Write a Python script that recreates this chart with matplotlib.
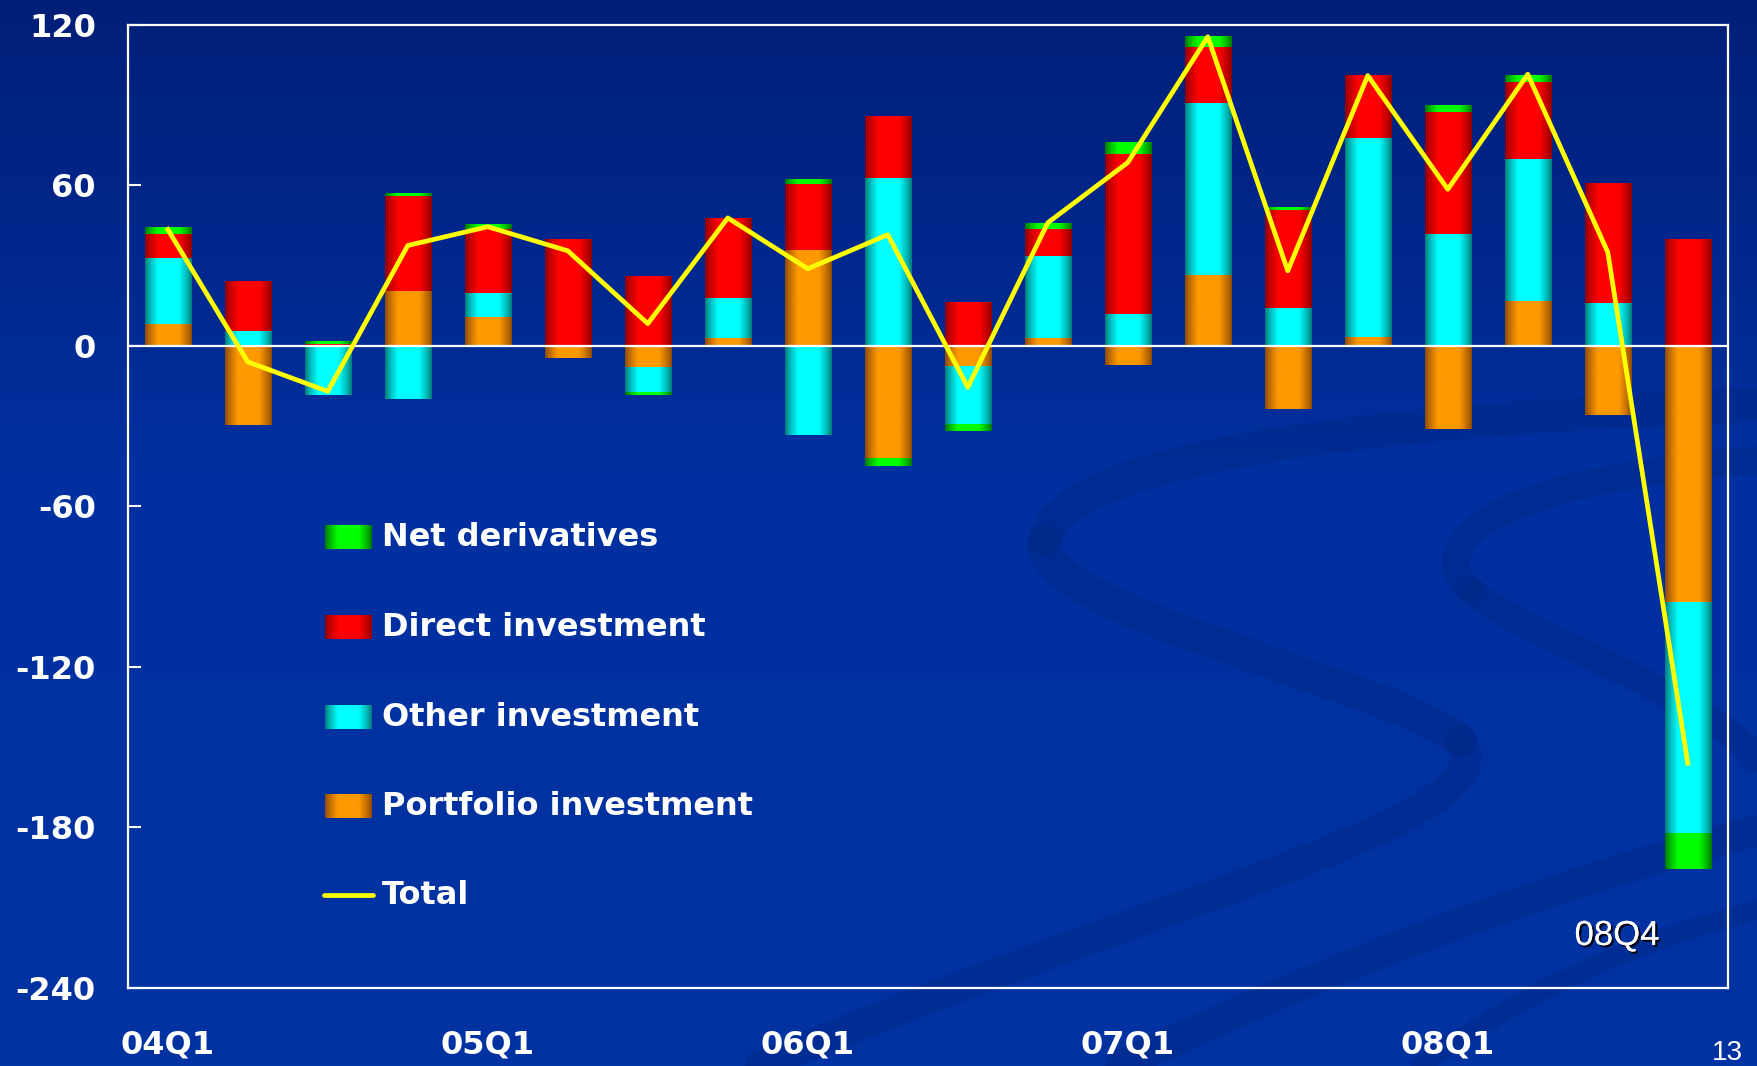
import numpy as np
import matplotlib
matplotlib.use("Agg")
import matplotlib.pyplot as plt
import matplotlib.patheffects as pe
from matplotlib.colors import to_rgb
from matplotlib.path import Path
from matplotlib.patches import PathPatch

plt.rcParams['axes.unicode_minus'] = False

# --- Quarterly flows by component ---
quarters = ['04Q1', '04Q2', '04Q3', '04Q4', '05Q1', '05Q2', '05Q3', '05Q4',
            '06Q1', '06Q2', '06Q3', '06Q4', '07Q1', '07Q2', '07Q3', '07Q4',
            '08Q1', '08Q2', '08Q3', '08Q4']
portfolio = [8.3, -29.7, 0.0, 20.5, 10.7, -4.4, -7.8, 3.0, 35.8, -42.2,
             -7.8, 3.0, -7.1, 26.3, -23.7, 3.4, -31.2, 16.8, -26.0, -95.9]
other = [24.5, 5.6, -18.3, -20.0, 9.1, 0.0, -9.3, 14.9, -33.2, 62.6,
         -21.8, 30.5, 11.9, 64.3, 14.2, 74.1, 41.7, 52.9, 16.0, -86.5]
direct = [8.9, 18.6, 0.8, 35.4, 23.7, 39.9, 26.1, 29.8, 24.7, 23.1,
          16.4, 10.1, 59.8, 21.2, 36.6, 23.5, 45.5, 28.8, 44.8, 39.9]
derivatives = [2.3, 0.0, 1.0, 1.1, 1.6, 0.0, -1.1, 0.0, 1.7, -2.9,
               -2.3, 2.2, 4.3, 4.1, 1.0, 0.0, 2.6, 2.5, 0.0, -13.1]
total = [43.5, -6.0, -17.0, 37.5, 44.5, 35.5, 8.3, 47.8, 28.8, 41.5,
         -15.5, 46.0, 68.5, 115.5, 28.0, 101.0, 58.5, 101.5, 35.0, -156.0]

yticks = [-240, -180, -120, -60, 0, 60, 120]

# series in stacking order (nearest the zero line first)
series = [
    ('Portfolio investment', portfolio, '#8a4800', '#ff9900'),
    ('Other investment', other, '#007878', '#00ffff'),
    ('Direct investment', direct, '#8c0000', '#ff0000'),
    ('Net derivatives', derivatives, '#007400', '#00ff00'),
]


def shade_row(dark, bright, n=120):
    # cylinder-like shading: dark edges, bright middle
    t = np.linspace(0, 1, n)
    f = np.clip((0.5 - np.abs(t - 0.5)) / 0.28, 0, 1) ** 0.8
    d, b = np.array(to_rgb(dark)), np.array(to_rgb(bright))
    return (d + (b - d) * f[:, None])[None, :, :]


fig = plt.figure(figsize=(17.58, 10.66), dpi=100)

# background: blue gradient with a few darker swirl bands
bg = fig.add_axes([0, 0, 1, 1], zorder=-5)
tt = np.linspace(0, 1, 300)[:, None]
top_c, mid_c, bot_c = np.array(to_rgb('#001f78')), np.array(to_rgb('#0030a0')), np.array(to_rgb('#0033a3'))
g = np.where(tt < 0.45, top_c + (mid_c - top_c) * (tt / 0.45), mid_c + (bot_c - mid_c) * ((tt - 0.45) / 0.55))
bg.imshow(g[:, None, :].repeat(2, axis=1), extent=(0, 1758, 1066, 0), aspect='auto')
swirls = [
    ([(1758, 405), (1350, 420), (1060, 460), (1045, 540)], 24),
    ([(1045, 540), (1030, 610), (1380, 680), (1460, 740)], 24),
    ([(1460, 740), (1520, 820), (1150, 900), (760, 1066)], 22),
    ([(1758, 460), (1500, 480), (1420, 540), (1470, 590)], 20),
    ([(1470, 590), (1530, 640), (1700, 690), (1758, 760)], 20),
    ([(1758, 830), (1500, 900), (1300, 980), (1120, 1066)], 22),
    ([(1758, 910), (1600, 950), (1500, 1010), (1420, 1066)], 14),
]
for pts, lw in swirls:
    codes = [Path.MOVETO, Path.CURVE4, Path.CURVE4, Path.CURVE4]
    bg.add_patch(PathPatch(Path(pts, codes), fill=False, edgecolor='#002784',
                           lw=lw, alpha=0.45, capstyle='round'))
bg.set_xlim(0, 1758)
bg.set_ylim(1066, 0)
bg.set_axis_off()

ax = fig.add_axes([0.0727, 0.0732, 0.9101, 0.9036])
ax.patch.set_alpha(0)

x = np.arange(len(quarters))
width = 0.58
pos_base = np.zeros(len(x))
neg_base = np.zeros(len(x))
for name, vals, dark, bright in series:
    vals = np.array(vals, dtype=float)
    base = np.where(vals >= 0, pos_base, neg_base)
    bars = ax.bar(x, vals, width, bottom=base, color='none', edgecolor='none')
    row = shade_row(dark, bright)
    for b in bars:
        h = b.get_height()
        if h == 0:
            continue
        x0, y0 = b.get_xy()
        ax.imshow(row, extent=(x0, x0 + b.get_width(), y0, y0 + h),
                  aspect='auto', interpolation='bilinear', zorder=2)
    pos_base += np.clip(vals, 0, None)
    neg_base += np.clip(vals, None, 0)

ax.axhline(0, color='white', lw=1.6, zorder=3)
ax.plot(x, total, color='#ffff00', lw=3.4, zorder=4)

ax.set_xlim(-0.5, len(x) - 0.5)
ax.set_ylim(-240, 120)
ax.set_yticks(yticks)
ax.set_xticks(x[::4], [quarters[i] for i in x[::4]])
ax.tick_params(axis='y', direction='in', length=9, width=1.5, color='white',
               labelcolor='white', labelsize=23, pad=23)
ax.tick_params(axis='x', length=0, labelcolor='white', labelsize=23, pad=30)
for lab in ax.get_xticklabels() + ax.get_yticklabels():
    lab.set_fontweight('bold')
for s in ax.spines.values():
    s.set_color('white')
    s.set_linewidth(1.6)

# legend, drawn by hand in axes fractions
rows = [('Net derivatives', '#007400', '#00ff00', 0.4676),
        ('Direct investment', '#8c0000', '#ff0000', 0.3745),
        ('Other investment', '#007878', '#00ffff', 0.2811),
        ('Portfolio investment', '#8a4800', '#ff9900', 0.1885)]
for label, dark, bright, yc in rows:
    ax.imshow(shade_row(dark, bright), extent=(0.1233, 0.1523, yc - 0.012, yc + 0.012),
              transform=ax.transAxes, aspect='auto', interpolation='bilinear', zorder=5)
    ax.text(0.1587, yc, label, transform=ax.transAxes, color='white', fontsize=23,
            fontweight='bold', va='center', ha='left', zorder=5)
ax.plot([0.1225, 0.1532], [0.0965, 0.0965], transform=ax.transAxes, color='#ffff00',
        lw=3.4, solid_capstyle='round', zorder=5)
ax.text(0.1587, 0.0965, 'Total', transform=ax.transAxes, color='white', fontsize=23,
        fontweight='bold', va='center', ha='left', zorder=5)

ax.set_xlim(-0.5, len(x) - 0.5)
ax.set_ylim(-240, 120)

shadow = [pe.withSimplePatchShadow(offset=(1.5, -1.5), shadow_rgbFace='black', alpha=0.9), pe.Normal()]
ax.text(0.9308, 0.0446, '08Q4', transform=ax.transAxes, color='white', fontsize=25,
        family='Liberation Sans', ha='center', va='baseline', path_effects=shadow, zorder=5)
fig.text(0.9824, 0.0056, '13', color='white', fontsize=20, family='Liberation Sans',
         ha='center', va='baseline')

fig.savefig('out.png', dpi=100)
